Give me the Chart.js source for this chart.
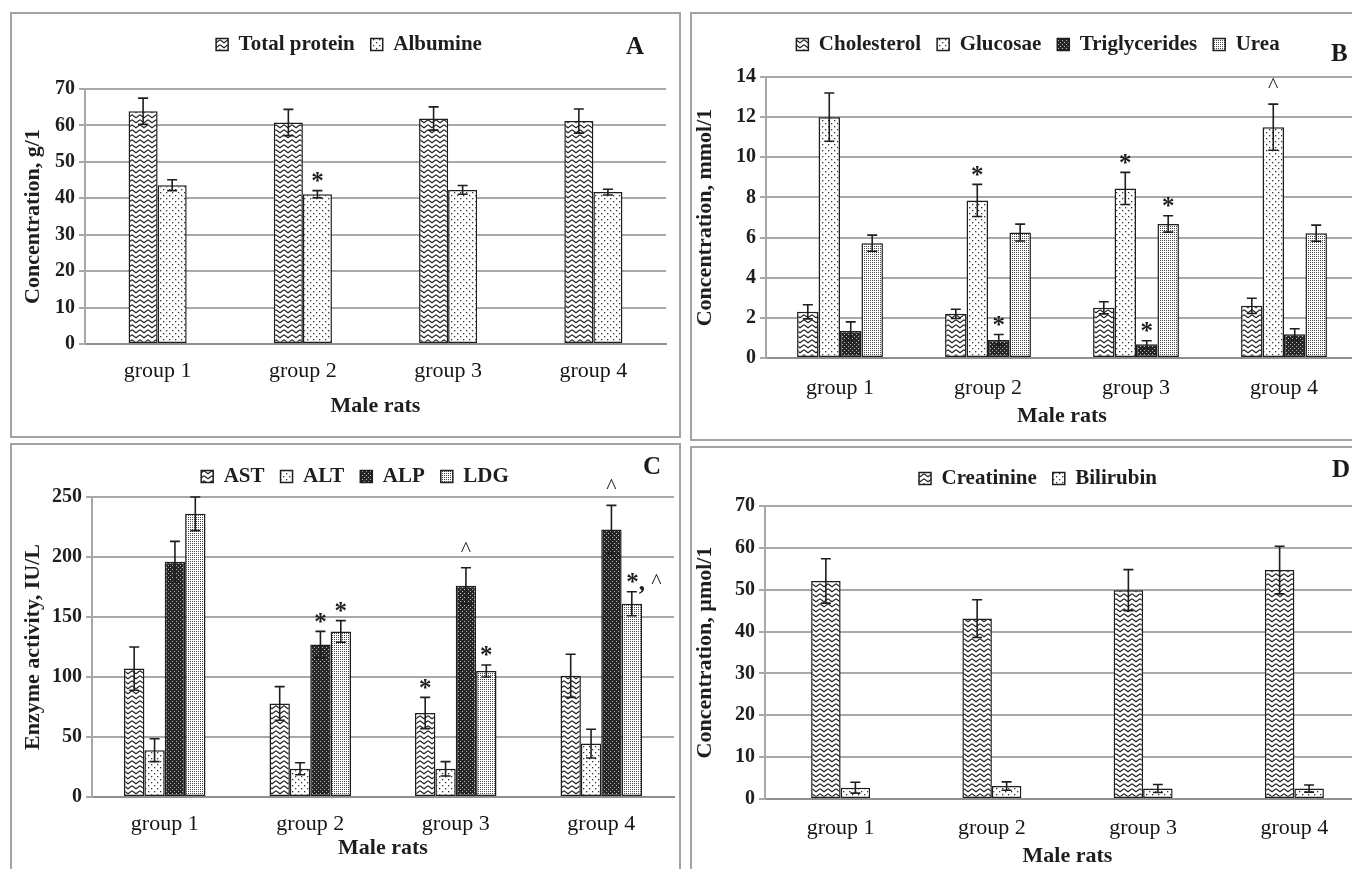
<!DOCTYPE html>
<html>
<head>
<meta charset="utf-8">
<script src="https://cdn.jsdelivr.net/npm/chart.js@4.4.0/dist/chart.umd.min.js"></script>
<style>
body { margin:0; width:1352px; height:869px; overflow:hidden; background:#fff; position:relative; font-family:"Liberation Serif", serif; }
.panel { position:absolute; border:2px solid #a3a3a3; box-sizing:border-box; }
canvas { position:absolute; }
.tag { position:absolute; font-weight:bold; font-size:25px; line-height:25px; color:#1a1a1a; }
</style>
</head>
<body>
<div class="panel" style="left:10px;top:12px;width:671px;height:426px"></div>
<div class="panel" style="left:690px;top:12px;width:670px;height:429px"></div>
<div class="panel" style="left:10px;top:443px;width:671px;height:432px"></div>
<div class="panel" style="left:690px;top:446px;width:670px;height:430px"></div>

<canvas id="chartA" width="666" height="422" style="left:12px;top:14px"></canvas>
<canvas id="chartB" width="668" height="424" style="left:692px;top:14px"></canvas>
<canvas id="chartC" width="666" height="424" style="left:12px;top:445px"></canvas>
<canvas id="chartD" width="678" height="424" style="left:692px;top:448px"></canvas>

<div class="tag" style="left:626px;top:33px">A</div>
<div class="tag" style="left:1331px;top:40px">B</div>
<div class="tag" style="left:643px;top:453px">C</div>
<div class="tag" style="left:1332px;top:456px">D</div>

<script>
var groups = ['group 1', 'group 2', 'group 3', 'group 4'];

// A - proteins, g/l
var totalProtein = [63.9, 60.8, 61.9, 61.2];
var totalProteinErr = [3.6, 3.6, 3.2, 3.3];
var albumine = [43.6, 41.1, 42.3, 41.7];
var albumineErr = [1.5, 1.0, 1.2, 0.8];
var albumineMarks = ['', '*', '', ''];

// B - mmol/l
var cholesterol = [2.3, 2.2, 2.5, 2.6];
var cholesterolErr = [0.35, 0.23, 0.3, 0.38];
var glucose = [12.0, 7.85, 8.45, 11.5];
var glucoseErr = [1.2, 0.8, 0.8, 1.15];
var glucoseMarks = ['', '*', '*', '^'];
var triglycerides = [1.35, 0.9, 0.68, 1.18];
var triglyceridesErr = [0.45, 0.27, 0.18, 0.28];
var triglyceridesMarks = ['', '*', '*', ''];
var urea = [5.72, 6.25, 6.68, 6.22];
var ureaErr = [0.4, 0.42, 0.41, 0.4];
var ureaMarks = ['', '', '*', ''];

// C - enzymes, IU/L
var ast = [107, 78, 70, 101];
var astErr = [18, 14, 13, 18];
var astMarks = ['', '', '*', ''];
var alt = [39, 23.5, 23.5, 44.5];
var altErr = [9.5, 5, 6, 12];
var alp = [196, 127, 176, 223];
var alpErr = [17, 11, 15, 20];
var alpMarks = ['', '*', '^', '^'];
var ldg = [236, 138, 105, 161];
var ldgErr = [14, 9, 5, 10];
var ldgMarks = ['', '*', '*', '*, ^'];

// D - umol/l
var creatinine = [52.1, 43.1, 49.9, 54.7];
var creatinineErr = [5.3, 4.5, 4.9, 5.7];
var bilirubin = [2.7, 3.1, 2.5, 2.5];
var bilirubinErr = [1.3, 1.0, 0.95, 0.85];

var FONT = '"Liberation Serif", "Times New Roman", serif';
var INK = '#1e1e1e';

// fill patterns like the excel ones
function tile(w, h, draw) {
    var c = document.createElement('canvas');
    c.width = w; c.height = h;
    var g = c.getContext('2d');
    draw(g);
    return document.createElement('canvas').getContext('2d').createPattern(c, 'repeat');
}
var zigzag = tile(8, 5, function(g) {
    g.fillStyle = '#fff'; g.fillRect(0, 0, 8, 5);
    g.strokeStyle = '#222'; g.lineWidth = 1.1;
    g.beginPath(); g.moveTo(0, 0.8); g.lineTo(4, 3.8); g.lineTo(8, 0.8); g.stroke();
});
var dots = tile(6, 6, function(g) {
    g.fillStyle = '#fff'; g.fillRect(0, 0, 6, 6);
    g.fillStyle = '#333'; g.fillRect(1, 1, 1.3, 1.3); g.fillRect(4, 4, 1.3, 1.3);
});
var dark = tile(4, 4, function(g) {
    g.fillStyle = '#262626'; g.fillRect(0, 0, 4, 4);
    g.fillStyle = '#bdbdbd'; g.fillRect(0, 0, 1, 1); g.fillRect(2, 2, 1, 1);
});
var fine = tile(2, 2, function(g) {
    g.fillStyle = '#fff'; g.fillRect(0, 0, 2, 2);
    g.fillStyle = '#444'; g.fillRect(0, 0, 1, 1);
});

// '*' big and bold, '^' small and thin
function markFont(ch) {
    return ch == '^' ? '22px ' + FONT : 'bold 25px ' + FONT;
}
function drawMark(ctx, text, x, y) {
    var w = 0, i;
    for (i = 0; i < text.length; i++) {
        ctx.font = markFont(text[i]);
        w += ctx.measureText(text[i]).width;
    }
    var cx = x - w / 2;
    ctx.textAlign = 'left';
    for (i = 0; i < text.length; i++) {
        ctx.font = markFont(text[i]);
        ctx.fillText(text[i], cx, text[i] == '^' ? y - (text.length > 1 ? 2 : 10) : y);
        cx += ctx.measureText(text[i]).width;
    }
}

// error bars and the * / ^ signs
var errorBars = {
    id: 'errorBars',
    afterDatasetsDraw: function(chart) {
        var ctx = chart.ctx, y = chart.scales.y;
        ctx.save();
        ctx.strokeStyle = INK;
        ctx.fillStyle = INK;
        ctx.lineWidth = 1.6;
        chart.data.datasets.forEach(function(ds, i) {
            chart.getDatasetMeta(i).data.forEach(function(bar, j) {
                var v = ds.data[j], e = ds.errors[j];
                var top = y.getPixelForValue(v + e);
                var bot = y.getPixelForValue(Math.max(v - e, 0));
                ctx.beginPath();
                ctx.moveTo(bar.x, top); ctx.lineTo(bar.x, bot);
                ctx.moveTo(bar.x - 5, top); ctx.lineTo(bar.x + 5, top);
                ctx.moveTo(bar.x - 5, bot); ctx.lineTo(bar.x + 5, bot);
                ctx.stroke();
                if (ds.marks && ds.marks[j]) {
                    var m = ds.marks[j];
                    drawMark(ctx, m, bar.x + (m.length > 1 ? 12 : 0), top - 8);
                }
            });
        });
        ctx.restore();
    }
};

// legend height / position tweaks
var legendSpace = {
    id: 'legendSpace',
    beforeInit: function(chart, args, opts) {
        var fit = chart.legend.fit;
        chart.legend.fit = function() {
            fit.call(this);
            this.height = opts.height;
        };
    },
    afterLayout: function(chart, args, opts) {
        chart.legend.left += opts.dx;
        chart.legend.right += opts.dx;
    }
};

function makeChart(id, series, p) {
    var datasets = series.map(function(s) {
        return {
            label: s[0], data: s[1], errors: s[2], marks: s[3],
            backgroundColor: s[4], borderColor: INK, borderWidth: 1.5, borderSkipped: false,
            categoryPercentage: p.cat, barPercentage: 1.0
        };
    });
    return new Chart(document.getElementById(id), {
        type: 'bar',
        data: { labels: groups, datasets: datasets },
        plugins: [errorBars, legendSpace],
        options: {
            responsive: false,
            animation: false,
            layout: { padding: p.pad },
            plugins: {
                tooltip: { enabled: false },
                legendSpace: { height: p.legendH, dx: p.dx },
                legend: {
                    position: 'top',
                    labels: {
                        boxWidth: 12, boxHeight: 12, padding: 16, color: INK,
                        font: { family: FONT, size: 21, weight: 'bold' }
                    }
                }
            },
            scales: {
                x: {
                    grid: { display: false, drawTicks: false },
                    border: { display: true, color: '#8f8f8f', width: 2 },
                    ticks: { color: '#151515', padding: p.xPad, font: { family: FONT, size: 22 } },
                    title: { display: true, text: 'Male rats', color: INK, padding: 0,
                             font: { family: FONT, size: 22, weight: 'bold' } },
                    afterFit: function(s) { s.height = p.xH; }
                },
                y: {
                    min: 0, max: p.max,
                    ticks: { stepSize: p.step, color: INK, padding: 4,
                             font: { family: FONT, size: 20, weight: 'bold' } },
                    grid: { color: '#a8a8a8', lineWidth: 2, tickLength: 6 },
                    border: { color: '#a8a8a8', width: 2 },
                    title: { display: true, text: p.yTitle, color: INK, padding: p.yTitlePad,
                             font: { family: FONT, size: 22, weight: 'bold' } },
                    afterFit: function(s) { s.width = p.yW; }
                }
            }
        }
    });
}

makeChart('chartA', [
    ['Total protein', totalProtein, totalProteinErr, null, zigzag],
    ['Albumine', albumine, albumineErr, albumineMarks, dots]
], { cat: 0.4, pad: { top: 4, left: 0, right: 12, bottom: 16 }, legendH: 71, dx: 10,
     yW: 73, yTitlePad: 8, xPad: 14, xH: 76, max: 70, step: 10, yTitle: 'Concentration, g/1' });

makeChart('chartB', [
    ['Cholesterol', cholesterol, cholesterolErr, null, zigzag],
    ['Glucosae', glucose, glucoseErr, glucoseMarks, dots],
    ['Triglycerides', triglycerides, triglyceridesErr, triglyceridesMarks, dark],
    ['Urea', urea, ureaErr, ureaMarks, fine]
], { cat: 0.58, pad: { top: 4, left: 0, right: 2, bottom: 8 }, legendH: 59, dx: 13,
     yW: 74, yTitlePad: 0, xPad: 17, xH: 72, max: 14, step: 2, yTitle: 'Concentration, mmol/1' });

makeChart('chartC', [
    ['AST', ast, astErr, astMarks, zigzag],
    ['ALT', alt, altErr, null, dots],
    ['ALP', alp, alpErr, alpMarks, dark],
    ['LDG', ldg, ldgErr, ldgMarks, fine]
], { cat: 0.56, pad: { top: 5, left: 0, right: 4, bottom: 7 }, legendH: 47, dx: 12,
     yW: 80, yTitlePad: 8, xPad: 14, xH: 65, max: 250, step: 50, yTitle: 'Enzyme activity, IU/L' });

makeChart('chartD', [
    ['Creatinine', creatinine, creatinineErr, null, zigzag],
    ['Bilirubin', bilirubin, bilirubinErr, null, dots]
], { cat: 0.39, pad: { top: 4, left: 0, right: 0, bottom: 2 }, legendH: 54, dx: 7,
     yW: 73, yTitlePad: 0, xPad: 16, xH: 71, max: 70, step: 10, yTitle: 'Concentration, \u00b5mol/1' });
</script>
</body>
</html>
